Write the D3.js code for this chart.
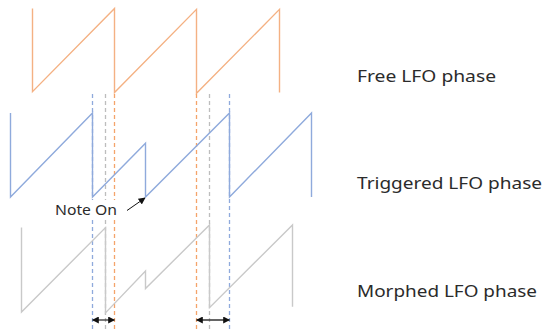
<!DOCTYPE html>
<html><head><meta charset="utf-8">
<script src="https://cdn.jsdelivr.net/npm/d3@7"></script>
<style>body{margin:0;background:#fff}svg{display:block}</style>
</head><body>
<script>
// ---- data (time in ticks, phase 0..1) ----
const freeTimes   = [32, 32, 114, 114, 196, 196, 279, 279];
const freePhase   = [1, 0.01, 1, 0, 0.99, -0.01, 0.99, 0];
const trigTimes   = [10, 10, 92, 92, 145, 145, 229, 229, 311, 311];
const trigPhase   = [1, 0, 1, 0, 0.64, 0, 1, 0, 1, 0];
const morphTimes  = [21, 21, 105, 105, 145, 145, 209, 209, 292, 292];
const morphPhase  = [0.97, 0, 0.97, -0.01, 0.47, 0.27, 1, 0.05, 1, 0.06];
const noteOnTimes = [92, 229];      // blue markers (trigger)
const morphDrops  = [105, 209];     // gray markers
const freeDrops   = [114, 196];     // orange markers
const rowLabels   = ["Free LFO phase", "Triggered LFO phase", "Morphed LFO phase"];
const noteLabel   = "Note On";

const W = 545, H = 329;
const svg = d3.select("body").append("svg").attr("width", W).attr("height", H);

const x = d3.scaleLinear().domain([0, 300]).range([0, 300]);
const yFree  = d3.scaleLinear().domain([0, 1]).range([92.5, 8.5]);
const yTrig  = d3.scaleLinear().domain([0, 1]).range([197, 113]);
const yMorph = d3.scaleLinear().domain([0, 1]).range([312, 225]);

const C = {orange: "#F4B183", orangeD: "#F4A46A", blue: "#8FAADC", gray: "#C9C9C9", grayD: "#BDBDBD", text: "#2b2b2b"};
const FONT = "'Noto Sans', 'DejaVu Sans', sans-serif";

// dashed markers
function dashes(ts, color) {
  svg.selectAll(null).data(ts).enter().append("line")
    .attr("x1", d => x(d) + 0.5).attr("x2", d => x(d) + 0.5)
    .attr("y1", 94).attr("y2", H)
    .attr("stroke", color).attr("stroke-width", 1.3)
    .attr("stroke-dasharray", "4,3");
}
dashes(noteOnTimes, C.blue);
dashes(morphDrops, C.grayD);
dashes(freeDrops, C.orangeD);

function wave(ts, ps, ys, color) {
  const pts = ts.map((t, i) => [x(t) + 0.5, ys(ps[i])]);
  svg.append("path").attr("d", d3.line()(pts))
    .attr("fill", "none").attr("stroke", color).attr("stroke-width", 1.4)
    .attr("stroke-linejoin", "miter");
}
wave(freeTimes, freePhase, yFree, C.orange);
wave(trigTimes, trigPhase, yTrig, C.blue);
wave(morphTimes, morphPhase, yMorph, C.gray);

// arrowhead marker
const defs = svg.append("defs");
defs.append("marker").attr("id", "ah").attr("viewBox", "0 0 10 10")
  .attr("refX", 9).attr("refY", 5).attr("markerWidth", 7).attr("markerHeight", 7)
  .attr("markerUnits", "userSpaceOnUse").attr("orient", "auto-start-reverse")
  .append("path").attr("d", "M0,0 L10,5 L0,10 Z").attr("fill", "#111");

// Note On label (white box behind) + arrow
svg.append("rect").attr("x", 50).attr("y", 200).attr("width", 72).attr("height", 19).attr("fill", "#fff");
svg.append("text").attr("x", 55).attr("y", 215).text(noteLabel)
  .attr("font-family", FONT).attr("font-size", 15)
  .attr("fill", C.text).attr("textLength", 62).attr("lengthAdjust", "spacingAndGlyphs");
svg.append("line").attr("x1", 127).attr("y1", 210.5).attr("x2", x(145)).attr("y2", yTrig(0) + 1)
  .attr("stroke", "#111").attr("stroke-width", 1).attr("marker-end", "url(#ah)");

// bottom double arrows
const spans = [[noteOnTimes[0], freeDrops[0]], [freeDrops[1], noteOnTimes[1]]];
svg.selectAll(null).data(spans).enter().append("line")
  .attr("x1", d => x(d[0]) + 0.5).attr("x2", d => x(d[1]) + 0.5)
  .attr("y1", 320).attr("y2", 320)
  .attr("stroke", "#333").attr("stroke-width", 1.3)
  .attr("marker-start", "url(#ah)").attr("marker-end", "url(#ah)");

// row labels
const labelY = [82, 189, 297];
const labelW = [139, 185, 180];
svg.selectAll(null).data(rowLabels).enter().append("text")
  .attr("x", 357).attr("y", (d, i) => labelY[i]).text(d => d)
  .attr("font-family", FONT).attr("font-size", 15.5)
  .attr("fill", C.text)
  .attr("textLength", (d, i) => labelW[i]).attr("lengthAdjust", "spacingAndGlyphs");
</script>
</body></html>
